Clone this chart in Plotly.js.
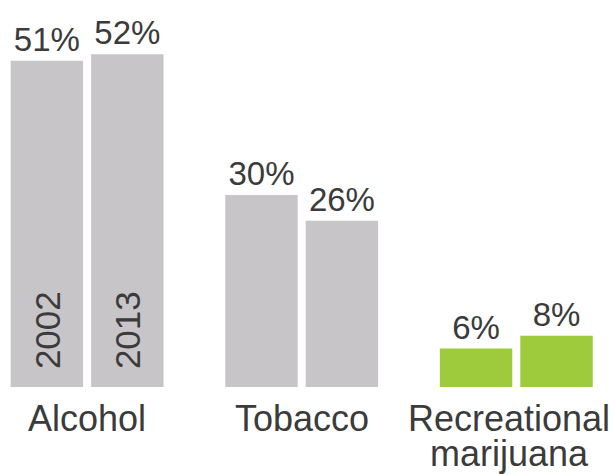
<!DOCTYPE html>
<html>
<head>
<meta charset="utf-8">
<script src="https://cdn.plot.ly/plotly-3.0.1.min.js"></script>
<style>html,body{margin:0;padding:0;background:#fff;}#chart{width:615px;height:474px;}</style>
</head>
<body>
<div id="chart"></div>
<script>
const categories = ["Alcohol", "Tobacco", "Recreational<br>marijuana"];
const years = ["2002", "2013"];
const values2002 = [51, 30, 6];
const values2013 = [52, 26, 8];
const barColors = ["#c8c5c9", "#c8c5c9", "#9dcb3c"];

const textColor = "#3b3b3b";
const font = "Liberation Sans, Arial, Helvetica, sans-serif";

function makeTrace(name, vals) {
  return {
    type: "bar",
    name: name,
    x: categories,
    y: vals,
    text: vals.map(v => v + "%"),
    textposition: "outside",
    textfont: {size: 33, color: textColor, family: font},
    cliponaxis: false,
    marker: {color: barColors, line: {width: 0}},
    hoverinfo: "skip"
  };
}

const data = [makeTrace(years[0], values2002), makeTrace(years[1], values2013)];

const slot = 80; // px between bar centres in a group
const annotations = years.map((yr, i) => ({
  x: 0, y: 0, xref: "x", yref: "y",
  text: yr, showarrow: false, textangle: -90,
  xshift: (i === 0 ? -1 : 1) * slot / 2,
  yshift: 16,
  yanchor: "bottom", xanchor: "center",
  font: {size: 35, color: textColor, family: font}
}));

// category labels, drawn line by line with a tight line height
const lineHeight = 35;
categories.forEach((cat, ci) => {
  cat.split("<br>").forEach((line, li) => {
    annotations.push({
      x: ci, y: 0, xref: "x", yref: "paper",
      text: line, showarrow: false,
      xanchor: "center", yanchor: "top",
      xshift: ci === categories.length - 1 ? -7 : 0,
      yshift: -9 - li * lineHeight,
      font: {size: 36, color: textColor, family: font}
    });
  });
});

const layout = {
  width: 615, height: 474,
  margin: {l: 0, r: 0, t: 0, b: 87},
  paper_bgcolor: "#ffffff", plot_bgcolor: "#ffffff",
  showlegend: false,
  barmode: "group",
  bargap: 0.25,
  bargroupgap: 0.1,
  xaxis: {
    type: "category",
    range: [-0.406, 2.46],
    showgrid: false, zeroline: false, showline: false,
    ticks: "", showticklabels: false
  },
  yaxis: {
    range: [0, 60.5],
    visible: false, showgrid: false, zeroline: false
  },
  annotations: annotations
};

Plotly.newPlot("chart", data, layout, {displayModeBar: false, staticPlot: true});
</script>
</body>
</html>
